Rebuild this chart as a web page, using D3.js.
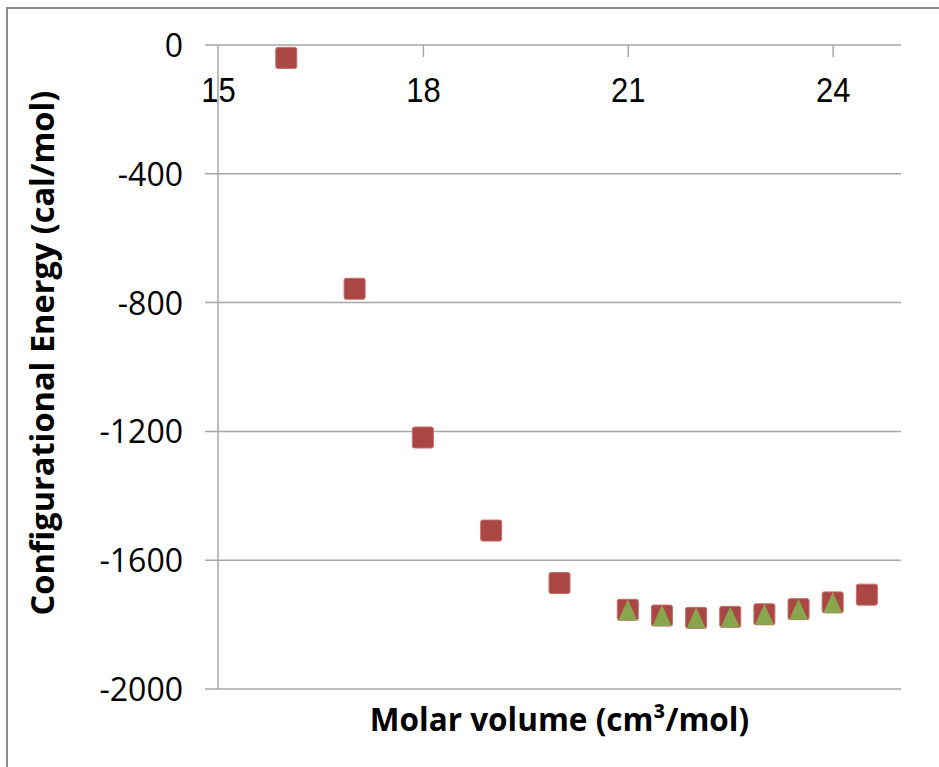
<!DOCTYPE html>
<html><head><meta charset="utf-8">
<script src="https://cdn.jsdelivr.net/npm/d3@7"></script>
<style>html,body{margin:0;padding:0;background:#fff;overflow:hidden}</style>
</head><body>
<script>
const xTicks = [15, 18, 21, 24];
const yTicks = [0, -400, -800, -1200, -1600, -2000];
const squareX = [16, 17, 18, 19, 20, 21, 21.5, 22, 22.5, 23, 23.5, 24, 24.5];
const squareY = [-40, -757, -1219, -1508, -1671, -1754, -1772, -1779, -1776, -1768, -1752, -1731, -1707];
const triX = [21, 21.5, 22, 22.5, 23, 23.5, 24];
const triY = [-1754, -1772, -1779, -1776, -1768, -1752, -1731];
const xTitle = "Molar volume (cm³/mol)";
const yTitle = "Configurational Energy (cal/mol)";

const W = 939, H = 767;
const svg = d3.select("body").append("svg").attr("width", W).attr("height", H);

// outer frame
svg.append("rect").attr("x", 7).attr("y", 8).attr("width", 1000).attr("height", 1000)
  .attr("fill", "none").attr("stroke", "#8c8c8c").attr("stroke-width", 2);

const x = d3.scaleLinear().domain([15, 25]).range([218, 901]);
const y = d3.scaleLinear().domain([-2000, 0]).range([689, 45]);

// gridlines (incl. outside tick stubs)
svg.append("g").selectAll("line").data(yTicks).join("line")
  .attr("x1", 205).attr("x2", x(25))
  .attr("y1", d => y(d)).attr("y2", d => y(d))
  .attr("stroke", "#a6a6a6").attr("stroke-width", 1.5);

// vertical axis line
svg.append("line").attr("x1", x(15)).attr("x2", x(15)).attr("y1", y(0)).attr("y2", y(-2000))
  .attr("stroke", "#a6a6a6").attr("stroke-width", 1.5);

// x axis at top (crossing at 0), ticks downward
const xAxis = d3.axisBottom(x).tickValues(xTicks).tickSize(12).tickSizeOuter(0).tickFormat(d3.format("d"));
const gx = svg.append("g").attr("transform", `translate(0,${y(0)})`).call(xAxis);
gx.attr("font-family", null).attr("font-size", null);
gx.select(".domain").remove();
gx.selectAll(".tick line").attr("stroke", "#a6a6a6").attr("stroke-width", 1.5)
  .attr("display", d => d === 15 ? "none" : null);
gx.selectAll(".tick text").attr("y", 0).attr("dy", 0)
  .attr("transform", "translate(0,57) scale(1,1.14)")
  .style("font-family", "'Liberation Sans', Arial, sans-serif").style("font-size", "31px").attr("fill", "#000");

// y axis labels
const yAxis = d3.axisLeft(y).tickValues(yTicks).tickSize(0).tickFormat(d3.format("d"));
const gy = svg.append("g").attr("transform", `translate(183,0)`).call(yAxis);
gy.attr("font-family", null).attr("font-size", null);
gy.select(".domain").remove();
gy.selectAll(".tick text").attr("x", 0).attr("dy", "0.36em")
  .style("font-family", "'Open Sans', sans-serif").style("font-size", "32px").attr("fill", "#000")
  .text(d => d === 0 ? "0" : "-" + Math.abs(d));

// squares
const s = 21;
svg.append("g").selectAll("rect").data(squareX.map((d, i) => [d, squareY[i]])).join("rect")
  .attr("x", d => x(d[0]) - s / 2).attr("y", d => y(d[1]) - s / 2)
  .attr("width", s).attr("height", s).attr("rx", 2)
  .attr("fill", "#AA4643").attr("stroke", "#c46d6a").attr("stroke-width", 1);

// triangles
svg.append("g").selectAll("path").data(triX.map((d, i) => [d, triY[i]])).join("path")
  .attr("d", d => {
    const cx = x(d[0]), cy = y(d[1]);
    return `M${cx},${cy - s / 2} L${cx + s / 2 - 1},${cy + s / 2} L${cx - s / 2 + 1},${cy + s / 2} Z`;
  })
  .attr("fill", "#89A54E");

// titles
svg.append("text").attr("x", (x(15) + x(25)) / 2).attr("y", 731).attr("text-anchor", "middle")
  .style("font-family", "'Open Sans', sans-serif").style("font-weight", "bold").style("font-size", "31.5px")
  .text(xTitle);
svg.append("text").attr("transform", "translate(54,353) rotate(-90)").attr("text-anchor", "middle")
  .style("font-family", "'Open Sans', sans-serif").style("font-weight", "bold").style("font-size", "32.5px")
  .text(yTitle);
</script>
</body></html>
